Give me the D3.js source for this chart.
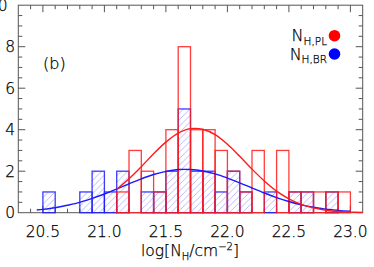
<!DOCTYPE html>
<html>
<head>
<meta charset="utf-8">
<script src="https://cdn.jsdelivr.net/npm/d3@7"></script>
<style>
  html, body { margin: 0; padding: 0; background: #fff; }
  svg text { font-family: 'DejaVu Sans', sans-serif; font-weight: 200; fill: #000; stroke: #000; stroke-width: 0.25; }
</style>
</head>
<body>
<div id="chart"></div>
<script>
// histogram bins (lower edge, width 0.1)
const BINS = [20.5, 20.6, 20.7, 20.8, 20.9, 21.0, 21.1, 21.2, 21.3, 21.4, 21.5, 21.6, 21.7,
  21.8, 21.9, 22.0, 22.1, 22.2, 22.3, 22.4, 22.5, 22.6, 22.7, 22.8, 22.9];
const BLUE_COUNTS = [1, 0, 0, 1, 2, 1, 2, 0, 1, 1, 2, 5, 2, 2, 1, 2, 1, 0, 1, 0, 1, 1, 0, 1, 0];
const RED_COUNTS = [null, null, null, null, null, null, 1, 3, 2, 1, 4, 8, 4, 4, 3, 2, 1, 3, 0, 3, 1, 1, 1, 1, 1];

// fitted curves
const RED_FIT_X = [21.1, 21.2, 21.3, 21.4, 21.5, 21.6, 21.7, 21.8, 21.9, 22.0, 22.1,
  22.2, 22.3, 22.4, 22.5, 22.6, 22.7, 22.8, 22.9, 23.0, 23.1];
const RED_FIT_Y = [1.13, 1.64, 2.22, 2.84, 3.40, 3.83, 4.05, 4.02, 3.76, 3.30, 2.72,
  2.10, 1.53, 1.04, 0.67, 0.40, 0.23, 0.12, 0.06, 0.03, 0.01];
const BLUE_FIT_X = [20.45, 20.5, 20.6, 20.7, 20.8, 20.9, 21.0, 21.1, 21.2, 21.3, 21.4, 21.5,
  21.6, 21.7, 21.8, 21.9, 22.0, 22.1, 22.2, 22.3, 22.4, 22.5, 22.6, 22.7, 22.8, 22.9, 23.0];
const BLUE_FIT_Y = [0.13, 0.16, 0.24, 0.36, 0.50, 0.69, 0.90, 1.14, 1.39, 1.63, 1.84, 1.99,
  2.08, 2.08, 2.01, 1.87, 1.67, 1.44, 1.19, 0.95, 0.73, 0.54, 0.38, 0.26, 0.17, 0.11, 0.07];

const X_TICKS = [20.5, 21.0, 21.5, 22.0, 22.5, 23.0];
const X_TICK_LABELS = ['20.5', '21.0', '21.5', '22.0', '22.5', '23.0'];
const Y_TICKS = [0, 2, 4, 6, 8, 10];

const width = 374;
const height = 267;
const binWidth = 0.1;
const red = '#ff1a1a';
const blue = '#1a1aff';

const svg = d3.select('#chart').append('svg')
  .attr('width', width)
  .attr('height', height);

const x = d3.scaleLinear().domain([20.3, 23.1]).range([18.3, 362.7]);
const y = d3.scaleLinear().domain([0, 10]).range([212.7, 5.2]);

// hatch pattern for the BR histogram
const defs = svg.append('defs');
const pat = defs.append('pattern')
  .attr('id', 'hatch')
  .attr('patternUnits', 'userSpaceOnUse')
  .attr('width', 6.5)
  .attr('height', 6.5);
pat.append('path')
  .attr('d', 'M-1,1 L1,-1 M0,6.5 L6.5,0 M5.5,7.5 L7.5,5.5')
  .attr('stroke', '#9c9cff')
  .attr('stroke-width', 0.7);

const blueBars = BINS.map((b, i) => ({ x0: b, n: BLUE_COUNTS[i] }));
const redBars = BINS.map((b, i) => ({ x0: b, n: RED_COUNTS[i] })).filter(d => d.n !== null);

// hatch fill
svg.append('g').selectAll('rect')
  .data(blueBars.filter(d => d.n > 0))
  .enter().append('rect')
  .attr('x', d => x(d.x0))
  .attr('y', d => y(d.n))
  .attr('width', d => x(d.x0 + binWidth) - x(d.x0))
  .attr('height', d => y(0) - y(d.n))
  .attr('fill', 'url(#hatch)');

// frame and ticks
const frame = svg.append('g').attr('stroke', '#555').attr('stroke-width', 1).attr('fill', 'none');
frame.append('rect')
  .attr('x', x(20.3))
  .attr('y', y(10))
  .attr('width', x(23.1) - x(20.3))
  .attr('height', y(0) - y(10));

const xMinor = d3.range(204, 231).map(v => v / 10);
xMinor.forEach((v) => {
  const major = Math.abs(v * 2 - Math.round(v * 2)) < 1e-6;
  const len = major ? 7 : 4;
  frame.append('line').attr('x1', x(v)).attr('x2', x(v)).attr('y1', y(0)).attr('y2', y(0) - len);
  frame.append('line').attr('x1', x(v)).attr('x2', x(v)).attr('y1', y(10)).attr('y2', y(10) + len);
});
const yMinor = d3.range(1, 20).map(v => v / 2);
yMinor.forEach((v) => {
  const major = v % 2 === 0;
  const len = major ? 7 : 4;
  frame.append('line').attr('x1', x(20.3)).attr('x2', x(20.3) + len).attr('y1', y(v)).attr('y2', y(v));
  frame.append('line').attr('x1', x(23.1)).attr('x2', x(23.1) - len).attr('y1', y(v)).attr('y2', y(v));
});

// tick labels
svg.append('g').selectAll('text')
  .data(X_TICKS)
  .enter().append('text')
  .attr('x', d => x(d))
  .attr('y', 236.5)
  .attr('text-anchor', 'middle')
  .style('font-size', '15.5px')
  .text((d, i) => X_TICK_LABELS[i]);

svg.append('g').selectAll('text')
  .data(Y_TICKS)
  .enter().append('text')
  .attr('x', d => (d === 10 ? 7.5 : 15))
  .attr('y', d => y(d) + 5.6)
  .attr('text-anchor', 'end')
  .style('font-size', '15.5px')
  .text(d => d);

// bars outlines
svg.append('g').selectAll('rect')
  .data(blueBars)
  .enter().append('rect')
  .attr('x', d => x(d.x0))
  .attr('y', d => y(d.n))
  .attr('width', d => x(d.x0 + binWidth) - x(d.x0))
  .attr('height', d => y(0) - y(d.n))
  .attr('fill', 'none')
  .attr('stroke', blue)
  .attr('stroke-opacity', 0.85)
  .attr('stroke-width', 1.3);

svg.append('g').selectAll('rect')
  .data(redBars)
  .enter().append('rect')
  .attr('x', d => x(d.x0))
  .attr('y', d => y(d.n))
  .attr('width', d => x(d.x0 + binWidth) - x(d.x0))
  .attr('height', d => y(0) - y(d.n))
  .attr('fill', 'none')
  .attr('stroke', red)
  .attr('stroke-opacity', 0.85)
  .attr('stroke-width', 1.3);

// fitted curves
const line = d3.line()
  .x(d => x(d[0]))
  .y(d => y(d[1]))
  .curve(d3.curveCatmullRom);

svg.append('path')
  .attr('d', line(BLUE_FIT_X.map((v, i) => [v, BLUE_FIT_Y[i]])))
  .attr('fill', 'none')
  .attr('stroke', blue)
  .attr('stroke-width', 1.4);

svg.append('path')
  .attr('d', line(RED_FIT_X.map((v, i) => [v, RED_FIT_Y[i]])))
  .attr('fill', 'none')
  .attr('stroke', red)
  .attr('stroke-width', 1.4);

// panel label
svg.append('text')
  .attr('x', 43)
  .attr('y', 69)
  .style('font-size', '16px')
  .text('(b)');

// legend
const legend = [
  { main: 'N', sub: 'H,PL', color: '#ff0000', y: 35.7 },
  { main: 'N', sub: 'H,BR', color: '#0000ff', y: 54 },
];
legend.forEach((l) => {
  const t = svg.append('text')
    .attr('x', 327)
    .attr('y', l.y + 5.5)
    .attr('text-anchor', 'end')
    .style('font-size', '16px');
  t.append('tspan').text(l.main);
  t.append('tspan').attr('dy', 3.5).style('font-size', '10.5px').text(l.sub);
  svg.append('circle')
    .attr('cx', 334.5)
    .attr('cy', l.y)
    .attr('r', 5.8)
    .attr('fill', l.color);
});

// x axis title
const xt = svg.append('text')
  .attr('x', 190)
  .attr('y', 256)
  .attr('text-anchor', 'middle')
  .style('font-size', '15.5px');
xt.append('tspan').text('log[N');
xt.append('tspan').attr('dy', 3.5).style('font-size', '10px').text('H');
xt.append('tspan').attr('dy', -3.5).text('/cm');
xt.append('tspan').attr('dy', -6).style('font-size', '10px').text('\u22122');
xt.append('tspan').attr('dy', 6).text(']');
</script>
</body>
</html>
